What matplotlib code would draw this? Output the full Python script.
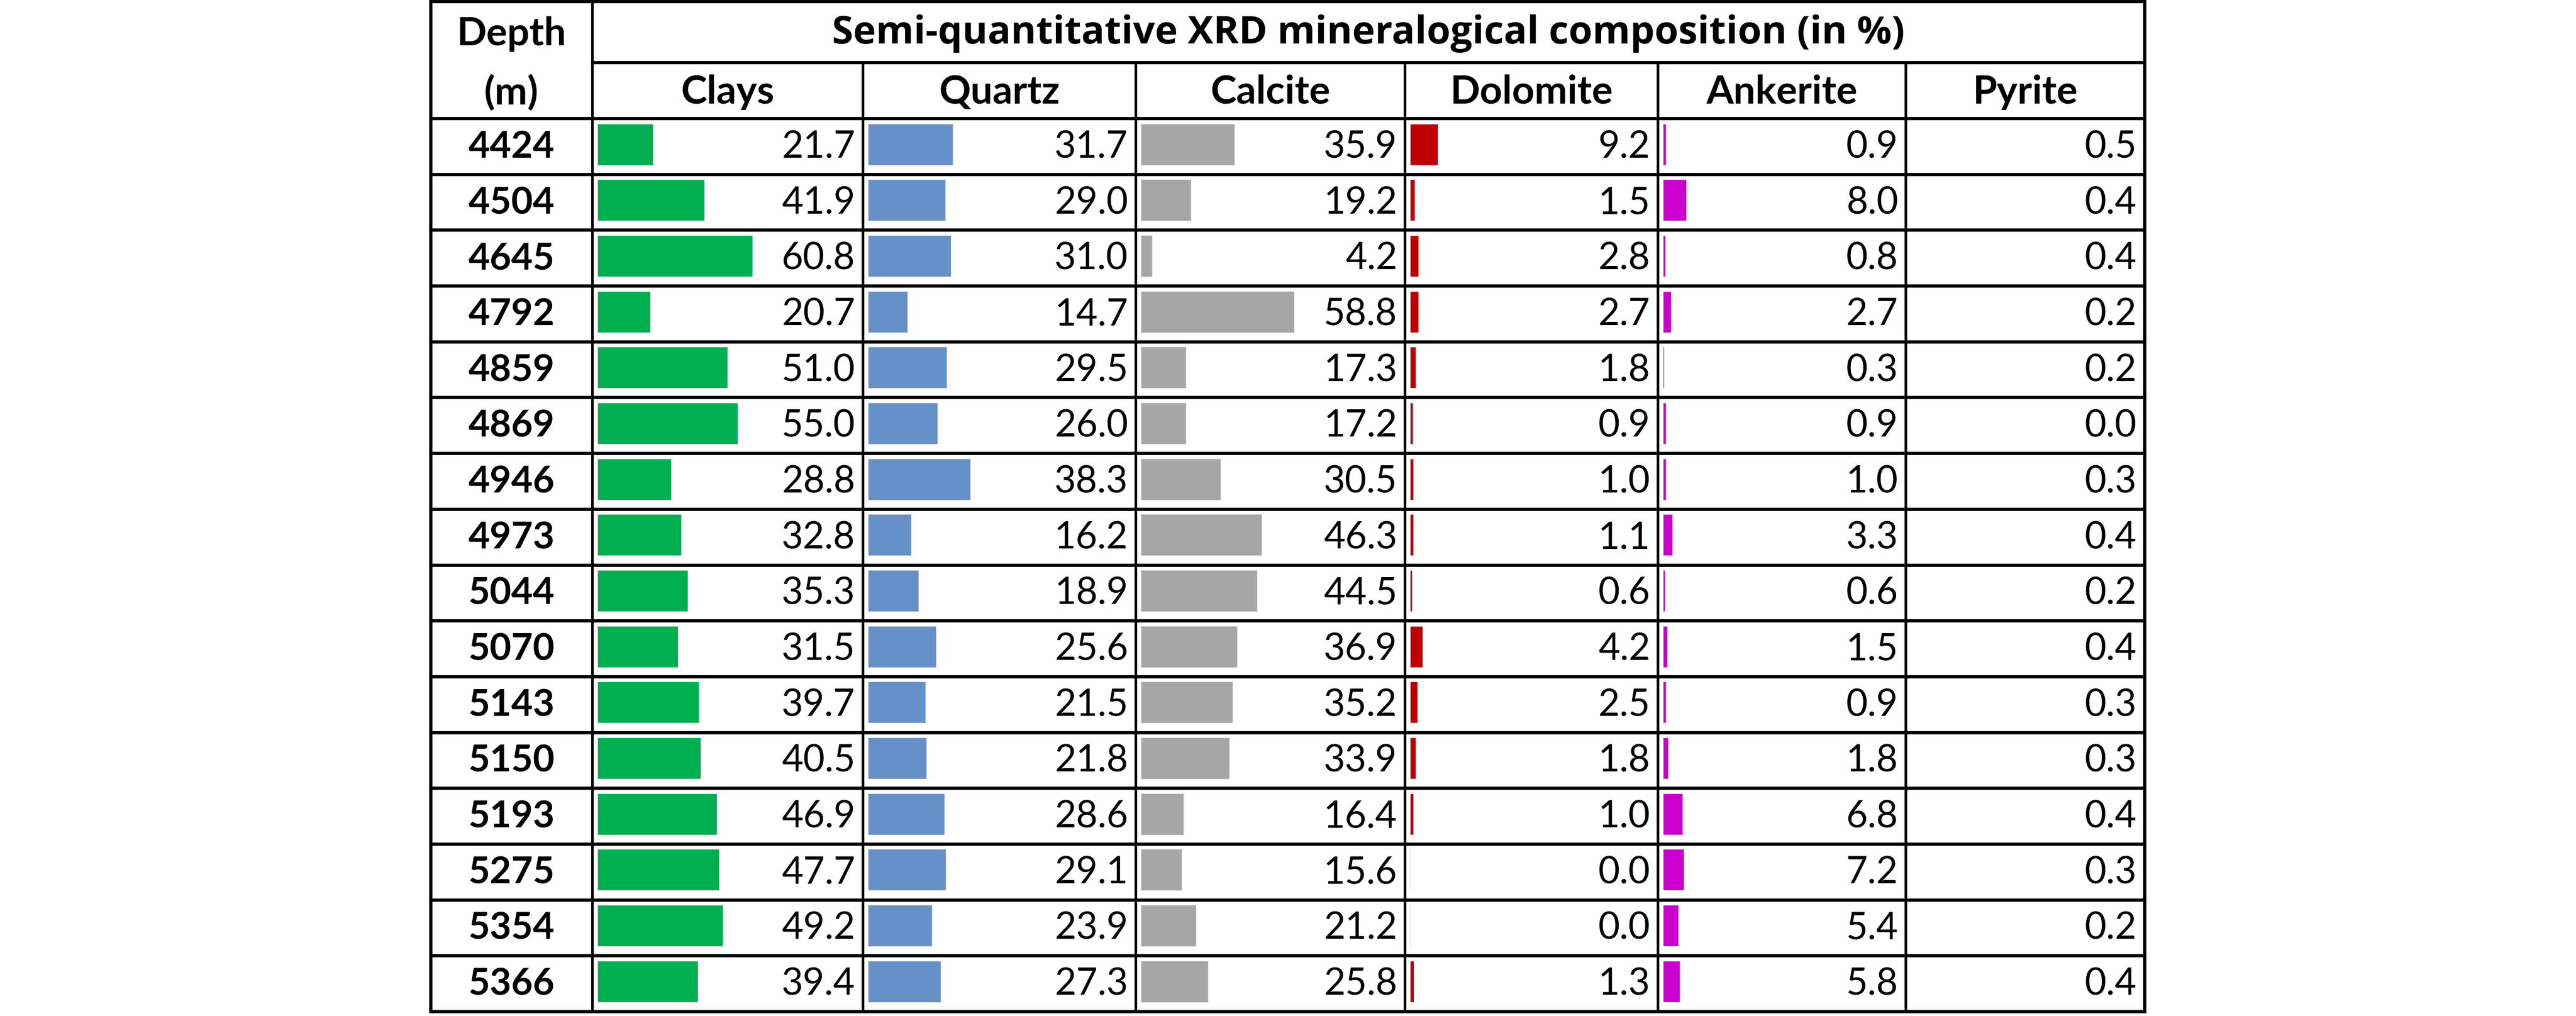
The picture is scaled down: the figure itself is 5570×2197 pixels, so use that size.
import matplotlib.pyplot as plt
import numpy as np

plt.rcParams.update({
    "font.family": ["Lato", "DejaVu Sans"],
    "figure.facecolor": "white",
})

# data (semi-quantitative XRD, %)
depths = [4424, 4504, 4645, 4792, 4859, 4869, 4946, 4973,
          5044, 5070, 5143, 5150, 5193, 5275, 5354, 5366]
minerals = ["Clays", "Quartz", "Calcite", "Dolomite", "Ankerite", "Pyrite"]
clays = [21.7, 41.9, 60.8, 20.7, 51.0, 55.0, 28.8, 32.8,
         35.3, 31.5, 39.7, 40.5, 46.9, 47.7, 49.2, 39.4]
quartz = [31.7, 29.0, 31.0, 14.7, 29.5, 26.0, 38.3, 16.2,
          18.9, 25.6, 21.5, 21.8, 28.6, 29.1, 23.9, 27.3]
calcite = [35.9, 19.2, 4.2, 58.8, 17.3, 17.2, 30.5, 46.3,
           44.5, 36.9, 35.2, 33.9, 16.4, 15.6, 21.2, 25.8]
dolomite = [9.2, 1.5, 2.8, 2.7, 1.8, 0.9, 1.0, 1.1,
            0.6, 4.2, 2.5, 1.8, 1.0, 0.0, 0.0, 1.3]
ankerite = [0.9, 8.0, 0.8, 2.7, 0.3, 0.9, 1.0, 3.3,
            0.6, 1.5, 0.9, 1.8, 6.8, 7.2, 5.4, 5.8]
pyrite = [0.5, 0.4, 0.4, 0.2, 0.2, 0.0, 0.3, 0.4,
          0.2, 0.4, 0.3, 0.3, 0.4, 0.3, 0.2, 0.4]
columns = [clays, quartz, calcite, dolomite, ankerite, pyrite]
title = "Semi-quantitative XRD mineralogical composition (in %)"

# styling / layout (pixel units)
bar_colors = ["#00B050", "#6690C8", "#A6A6A6", "#C00000", "#CC00CC", None]
px_per_pct = [5.51, 5.76, 5.63, 6.5, 6.2, 0]
W, H = 5570, 2197
col_edges = [931, 1281, 1866, 2456, 3038, 3585, 4121, 4637]
y_top, y_h1, y_h2, y_bot = 3, 135, 256, 2187
n = len(depths)
row_edges = np.linspace(y_h2, y_bot, n + 1)
fs = 58
fs_head = 61
title_width = 2320  # px, as in the source table

fig = plt.figure(figsize=(W / 100, H / 100), dpi=100)
ax = fig.add_axes([0, 0, 1, 1])
ax.set_xlim(0, W)
ax.set_ylim(H, 0)
ax.axis("off")

# data bars inside cells
for j, vals in enumerate(columns):
    if bar_colors[j] is None:
        continue
    vals = np.array(vals)
    ax.barh(row_edges[:-1] + 56, vals * px_per_pct[j], height=89,
            left=col_edges[j + 1] + 11, color=bar_colors[j],
            edgecolor="#d8d8d8", linewidth=0.8, zorder=1)

# numbers
for j, vals in enumerate(columns):
    xr = col_edges[j + 2] - 17
    for i, v in enumerate(vals):
        ax.text(xr, (row_edges[i] + row_edges[i + 1]) / 2 + 2, f"{v:.1f}",
                ha="right", va="center", fontsize=fs, zorder=3)

xd = (col_edges[0] + col_edges[1]) / 2
for i, d in enumerate(depths):
    ax.text(xd, (row_edges[i] + row_edges[i + 1]) / 2 + 2, str(d),
            ha="center", va="center", fontsize=fs, fontweight="bold")

# headers
ax.text(xd, (y_top + y_h1) / 2 + 4, "Depth", ha="center", va="center",
        fontsize=fs_head, fontweight="bold")
ax.text(xd, (y_h1 + y_h2) / 2 + 4, "(m)", ha="center", va="center",
        fontsize=fs_head, fontweight="bold")
t = ax.text((col_edges[1] + col_edges[-1]) / 2, (y_top + y_h1) / 2 + 4, title,
            ha="center", va="center", fontsize=60, fontweight="bold",
            family="Open Sans")
fig.canvas.draw()
tw = t.get_window_extent().width
t.set_fontsize(60 * title_width / tw)
for j, name in enumerate(minerals):
    ax.text((col_edges[j + 1] + col_edges[j + 2]) / 2, (y_h1 + y_h2) / 2 + 4,
            name, ha="center", va="center", fontsize=fs_head, fontweight="bold")

# grid lines
lw_h, lw_v = 5, 4
for y in row_edges:
    ax.plot([col_edges[0], col_edges[-1]], [y, y], color="black", lw=lw_h,
            solid_capstyle="projecting", zorder=4)
ax.plot([col_edges[1], col_edges[-1]], [y_h1, y_h1], color="black", lw=lw_h, zorder=4)
ax.plot([col_edges[0], col_edges[-1]], [y_top, y_top], color="black", lw=lw_h,
        solid_capstyle="projecting", zorder=4)
ax.plot([col_edges[0], col_edges[0]], [y_top, y_bot], color="black", lw=lw_h,
        solid_capstyle="projecting", zorder=4)
ax.plot([col_edges[-1], col_edges[-1]], [y_top, y_bot], color="black", lw=lw_h,
        solid_capstyle="projecting", zorder=4)
ax.plot([col_edges[1], col_edges[1]], [y_top, y_bot], color="black", lw=lw_v, zorder=4)
for x in col_edges[2:-1]:
    ax.plot([x, x], [y_h1, y_bot], color="black", lw=lw_v, zorder=4)

fig.savefig("out.png", dpi=100)
